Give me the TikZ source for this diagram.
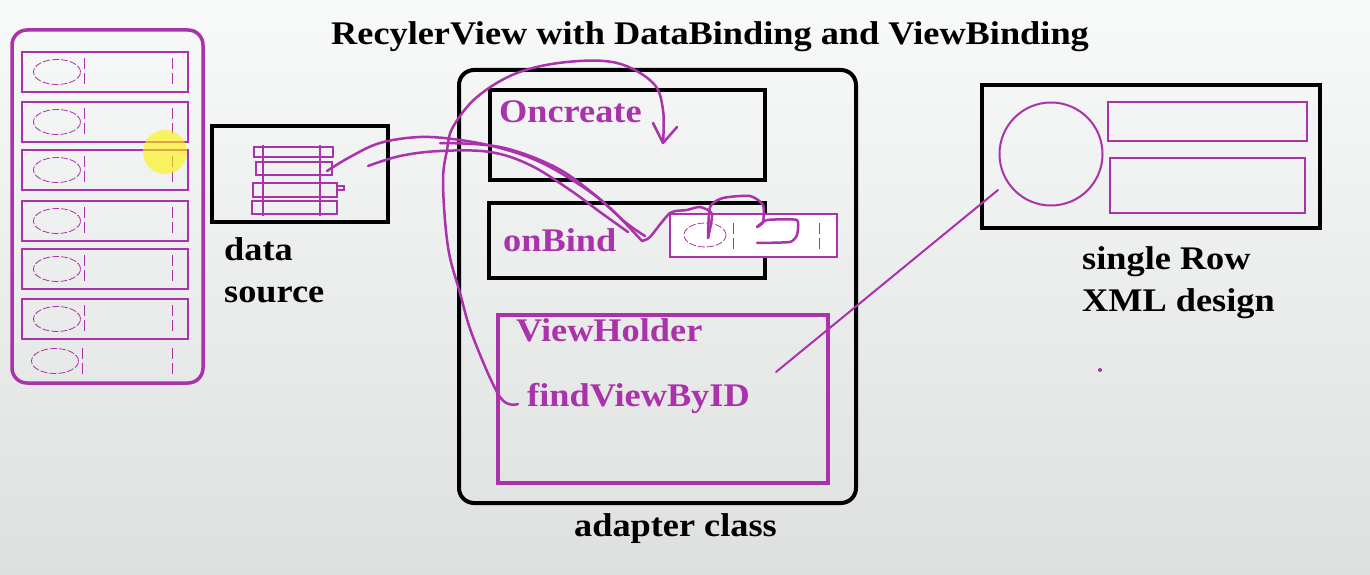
\documentclass[tikz,border=0pt]{standalone}
\usepackage{fontspec}
\setmainfont[FakeStretch=1.1]{Liberation Serif}
\usetikzlibrary{positioning, shapes.geometric}
\definecolor{penmag}{RGB}{170,50,170}
\definecolor{bgtop}{RGB}{248,249,249}
\definecolor{bgbot}{RGB}{222,223,223}

\tikzset{
  blackbox/.style={draw=black, line width=4pt, inner sep=0pt},
  magbox/.style={draw=penmag, line width=3.5pt, inner sep=0pt},
  rowbox/.style={draw=penmag, line width=2pt, inner sep=0pt, minimum width=166pt, minimum height=40pt},
  dashring/.style={draw=penmag, ellipse, line width=0.8pt, dash pattern=on 7pt off 2pt, minimum width=47pt, minimum height=25pt, inner sep=0pt},
  tick/.style={draw=penmag, line width=1pt, dash pattern=on 11pt off 4pt},
  lbl/.style={font=\bfseries\fontsize{33}{42}\selectfont, text=black, align=left, inner sep=0pt, anchor=west},
  maglbl/.style={lbl, text=penmag},
  pen/.style={draw=penmag, line width=2.5pt, line cap=round, line join=round},
}

\begin{document}
\begin{tikzpicture}[x=1pt, y=-1pt]
    \useasboundingbox (0,0) rectangle (1370,575);
    \shade[top color=bgtop, middle color=bgtop, bottom color=bgbot] (0,0) rectangle (1370,575);

    % title
    \node[lbl, anchor=center] (title) at (710,37) {RecylerView with DataBinding and ViewBinding};

    % recycler view on the phone
    \node[magbox, rounded corners=15pt, minimum width=191pt, minimum height=353pt] (phone) at (107.5,206.5) {};
    \foreach \i/\y in {1/72,2/122,3/170,4/221,5/269,6/319}{
        \node[rowbox] (row\i) at (105,\y) {};
        \node[dashring] (ring\i) at (57,\y) {};
        \draw[tick] (84,\y-14) -- (84,\y+14);
        \draw[tick] (172,\y-14) -- (172,\y+14);
    }
    \node[dashring] (ring7) at (55,361) {};
    \draw[tick] (82,348) -- (82,376);
    \draw[tick] (172,348) -- (172,376);
    \fill[yellow, opacity=0.6] (165,152) circle (22pt);

    % data source
    \node[blackbox, minimum width=176pt, minimum height=96pt] (source) at (300,174) {};
    \draw[penmag, line width=2pt] (254,147) rectangle (333,157);
    \draw[penmag, line width=2pt] (256,162) rectangle (332,175);
    \draw[penmag, line width=2pt] (253,183) rectangle (337,197);
    \draw[penmag, line width=2pt] (337,186) rectangle (344,190);
    \draw[penmag, line width=2pt] (252,201) rectangle (337,214);
    \draw[penmag, line width=2pt] (263,145) -- (263,216);
    \draw[penmag, line width=2pt] (320,145) -- (320,216);
    \node[lbl, anchor=north west] (sourcelbl) at (224,237) {data\\source};

    % adapter class
    \node[blackbox, rounded corners=15pt, minimum width=397pt, minimum height=433pt] (adapter) at (657.5,286.5) {};
    \node[blackbox, minimum width=275pt, minimum height=90pt] (create) at (627.5,135) {};
    \node[maglbl] (createlbl) at (499,112) {Oncreate};
    \node[blackbox, minimum width=276pt, minimum height=75pt] (bind) at (627,240.5) {};
    \node[maglbl] (bindlbl) at (503,240) {onBind};
    \node[draw=penmag, fill=white, line width=2pt, minimum width=167pt, minimum height=43pt, inner sep=0pt] (bindrow) at (753.5,235.5) {};
    \node[dashring, minimum width=42pt, minimum height=24pt] (bindring) at (705,235) {};
    \draw[tick] (733,223) -- (733,249);
    \draw[tick] (819,223) -- (819,249);
    \node[magbox, minimum width=330pt, minimum height=168pt] (holder) at (663,399) {};
    \node[maglbl] (holderlbl) at (516,330) {ViewHolder};
    \node[maglbl] (findlbl) at (527,398) {findViewByID};
    \node[lbl, below=8pt of adapter, xshift=18pt] (adapterlbl) {adapter class};

    % single row xml
    \node[blackbox, minimum width=338pt, minimum height=143pt] (xml) at (1151,156.5) {};
    \node[draw=penmag, circle, line width=2pt, minimum size=103pt, inner sep=0pt] (avatar) at (1051,154) {};
    \node[draw=penmag, line width=2pt, minimum width=199pt, minimum height=39pt, inner sep=0pt] (line1) at (1207.5,121.5) {};
    \node[draw=penmag, line width=2pt, minimum width=195pt, minimum height=55pt, inner sep=0pt] (line2) at (1207.5,185.5) {};
    \node[lbl, anchor=north west] (xmllbl) at (1082,246) {single Row\\XML design};
    \fill[penmag] (1100,370) circle (2pt);

    % pen strokes
    \coordinate (findend) at (518,404);
    \coordinate (createend) at (663,143);
    \coordinate (srcend) at (327,171);
    \coordinate (src2end) at (368,166);
    \coordinate (bindend) at (642,241);
    \coordinate (vhend) at (776,372);
    \coordinate (xmlend) at (998,190);
    \draw[pen] plot[smooth, tension=0.6] coordinates {(findend) (500,397) (473,337) (460,293) (448,247) (443,183) (447,150) (453,127) (477,97) (517,73) (567,62) (617,63) (653,83) (663,110) (createend)};
    \draw[pen] (653,123) -- (createend) -- (677,127);
    \draw[pen] plot[smooth, tension=0.6] coordinates {(srcend) (350,157) (380,143) (420,137) (460,140) (500,148) (540,162) (580,185) (610,208) (bindend)};
    \draw[pen] plot[smooth, tension=0.6] coordinates {(src2end) (400,156) (440,151) (490,152) (530,165) (570,190) (600,212) (628,232)};
    \draw[pen] plot[smooth, tension=0.6] coordinates {(440,143) (500,147) (555,167) (595,195) (625,222) (645,236)};
    \draw[pen] plot[smooth, tension=0.4] coordinates {(bindend) (650,237) (670,213) (687,210) (700,207) (712,214) (708,238)};
    \draw[pen] plot[smooth, tension=0.4] coordinates {(708,238) (710,207) (723,198) (750,196) (763,205) (763,222) (757,227)};
    \draw[pen] plot[smooth, tension=0.3] coordinates {(757,227) (767,220) (797,220) (797,235) (790,242) (757,243)};
    \draw[pen, line width=2pt] (vhend) -- (xmlend);
\end{tikzpicture}
\end{document}
